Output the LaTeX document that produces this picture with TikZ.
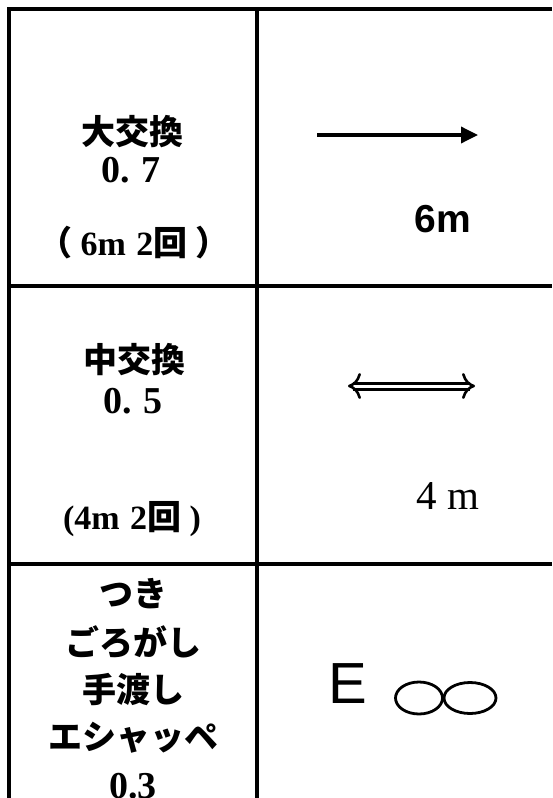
\documentclass[tikz,border=0pt]{standalone}
\usepackage{fontspec}
\setmainfont{Liberation Serif}
\newfontfamily\jpfont{Noto Sans CJK JP}
\newfontfamily\sansfont{Liberation Sans}
\usetikzlibrary{positioning,arrows.meta,shapes.geometric}

\tikzset{
  rule/.style={line width=3.6pt},
  cjk/.style={font=\jpfont\bfseries\fontsize{34}{34}\selectfont, inner sep=0pt},
  num/.style={font=\bfseries\fontsize{38}{38}\selectfont, inner sep=0pt},
  note/.style={font=\bfseries\fontsize{34}{34}\selectfont, inner sep=0pt},
  ring/.style={draw, ellipse, line width=2.8pt, inner sep=0pt},
  barb/.style={line width=2.6pt, -{Computer Modern Rightarrow[length=13pt,width=26pt]}},
}

\begin{document}
\begin{tikzpicture}[x=1pt, y=-1pt, node distance=48pt]
\useasboundingbox (0,0) rectangle (552,798);
% table rules
\draw [rule, line join=miter] (552,9) -- (9,9) -- (9,798);
\draw [rule] (257,9) -- (257,798);
\draw [rule] (9,286) -- (552,286);
\draw [rule] (9,564) -- (552,564);

% first row
\node [cjk] (big) at (132,132) {大交換};
\node [num] (big_val) at (131,170) {0.\hspace{0.3em}7};
\node [note] (big_note) at (134,243) {{\jpfont （} 6m\hspace{0.3em}2{\jpfont 回} {\jpfont ）}};
\coordinate (long_l) at (317,135);
\coordinate (long_r) at (478,135);
\draw [line width=3.5pt, -{Triangle[length=17pt,width=16pt]}] (long_l) -- (long_r);
\node [font=\sansfont\bfseries\fontsize{39}{39}\selectfont, inner sep=0pt] (long_len) at (443,219) {6m};

% second row
\node [cjk] (mid) at (134,360) {中交換};
\node [num] (mid_val) at (133,401) {0.\hspace{0.3em}5};
\node [note] (mid_note) at (132,519) {(4m\hspace{0.3em}2{\jpfont 回} )};
\coordinate (short_l) at (348,386);
\coordinate (short_r) at (475,386);
\draw [double, double distance=3pt, line width=3pt, shorten <=5pt, shorten >=5pt] (short_l) -- (short_r);
\draw [barb] ([xshift=1pt]short_l) -- (short_l);
\draw [barb] ([xshift=-1pt]short_r) -- (short_r);
\node [font=\fontsize{41}{41}\selectfont, inner sep=0pt] (short_len) at (448,496) {4 m};

% third row
\node [cjk] (thrust) at (133,594) {つき};
\node [cjk] (roll) [below of=thrust] {ごろがし};
\node [cjk] (hand) [below of=roll] {手渡し};
\node [cjk] (escape) [below of=hand] {エシャッペ};
\node [num] (low_val) [below of=escape] {0.3};
\node [font=\sansfont\fontsize{58}{58}\selectfont, inner sep=0pt] (esc) at (348,684) {E};
\node [ring, minimum width=47pt, minimum height=32pt] (ring_a) at (419,698) {};
\node [ring, minimum width=52pt, minimum height=31pt] (ring_b) at (470,698) {};
\end{tikzpicture}
\end{document}
